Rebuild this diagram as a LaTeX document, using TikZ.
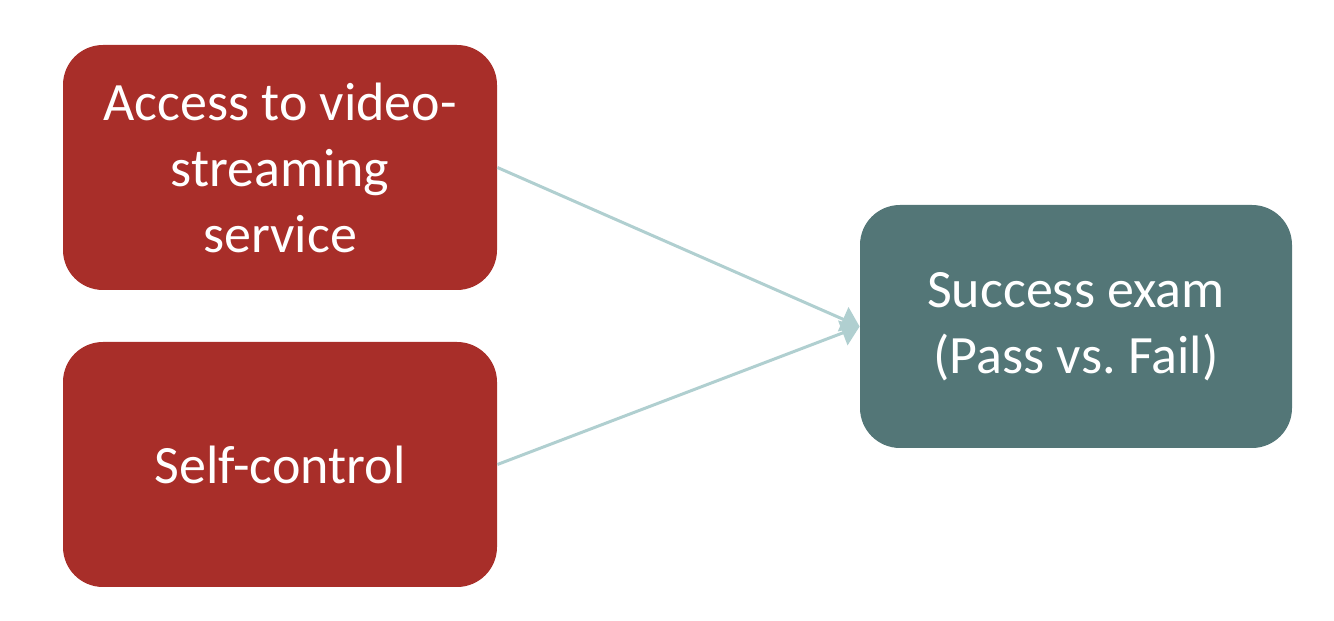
\documentclass[tikz,border=0pt]{standalone}
\usepackage{fontspec}
\setmainfont{Carlito}
\usetikzlibrary{arrows.meta}
\definecolor{boxred}{RGB}{168,46,41}
\definecolor{boxteal}{RGB}{83,118,119}
\definecolor{linkblue}{RGB}{176,207,208}
\begin{document}
\begin{tikzpicture}[
        x=1pt, y=1pt,
        % 圆角方框
        factor/.style={rounded corners=20pt, fill=boxred, text=white,
            minimum width=217pt, minimum height=122.5pt, align=center,
            font=\fontsize{27}{33}\selectfont, inner sep=0pt},
        outcome/.style={factor, fill=boxteal, minimum width=216pt, minimum height=121.5pt},
        % 连线
        link/.style={draw=linkblue, line width=1.5pt,
            -{Triangle[length=9pt,width=13pt]}}
    ]
    % 画布大小
    \useasboundingbox (0,0) rectangle (667,310.5);

    % --- 方框 ---
    \node[factor] (access) at (140,226.75) {Access to video-\\streaming\\service};
    \node[factor] (control) at (140,78.25) {Self-control};
    \node[outcome] (exam) at (538,147.25) {Success exam\\(Pass vs.\ Fail)};

    % --- 连线 ---
    \draw[link] (access.east) -- (exam.west);
    \draw[link] (control.east) -- (exam.west);

\end{tikzpicture}
\end{document}
